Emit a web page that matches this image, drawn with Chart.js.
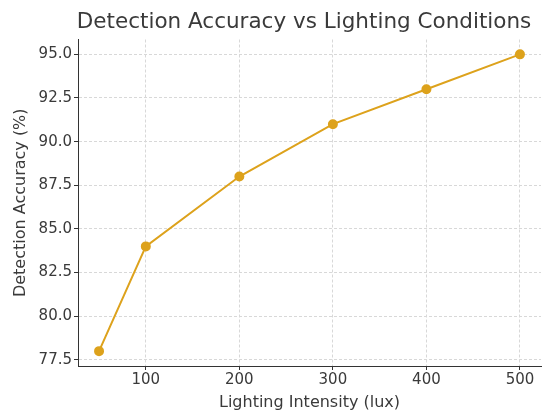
<!DOCTYPE html>
<html>
<head>
<meta charset="utf-8">
<script src="https://cdn.jsdelivr.net/npm/chart.js@4"></script>
<style>
  html, body { margin: 0; padding: 0; background: #fff; overflow: hidden; }
  #wrap { width: 547px; height: 414px; }
</style>
</head>
<body>
<div id="wrap"><canvas id="chart"></canvas></div>
<script>
// data
const lux = [50, 100, 200, 300, 400, 500];
const accuracy = [78, 84, 88, 91, 93, 95];
const xTicks = [100, 200, 300, 400, 500];
const yTicks = [77.5, 80.0, 82.5, 85.0, 87.5, 90.0, 92.5, 95.0];

const lineColor = '#DDA21C';
const font = 'DejaVu Sans';
const textColor = '#3a3a3a';

// title drawn over the middle of the plot area
const titlePlugin = {
    id: 'centerTitle',
    afterDraw(chart) {
        const ctx = chart.ctx;
        ctx.save();
        ctx.font = '21.5px "' + font + '"';
        ctx.fillStyle = textColor;
        ctx.textAlign = 'center';
        ctx.textBaseline = 'middle';
        ctx.fillText('Detection Accuracy vs Lighting Conditions', 304, 22);
        ctx.restore();
    }
};

new Chart(document.getElementById('chart'), {
    type: 'line',
    data: {
        datasets: [{
            data: lux.map((x, i) => ({ x: x, y: accuracy[i] })),
            borderColor: lineColor,
            backgroundColor: lineColor,
            borderWidth: 2,
            pointRadius: 4,
            pointHoverRadius: 4,
            tension: 0
        }]
    },
    options: {
        responsive: true,
        maintainAspectRatio: false,
        animation: false,
        layout: { padding: { top: 39.5, right: 0, left: 0, bottom: 0 } },
        plugins: {
            legend: { display: false },
            tooltip: { enabled: false }
        },
        scales: {
            x: {
                type: 'linear',
                min: 27.5,
                max: 522.5,
                afterBuildTicks: (axis) => { axis.ticks = xTicks.map(v => ({ value: v })); },
                afterFit: (axis) => { axis.height = 48; axis.paddingLeft = 0; axis.paddingRight = 0; },
                ticks: { color: textColor, font: { family: font, size: 15 }, padding: 1, maxRotation: 0 },
                grid: { color: '#d8d8d8', tickColor: '#333', tickLength: 4, tickBorderDash: [] },
                border: { display: true, color: '#333', width: 1, dash: [3, 2] },
                title: { display: true, text: 'Lighting Intensity (lux)', color: textColor, font: { family: font, size: 16 }, padding: { top: 2, bottom: 1.4 } }
            },
            y: {
                min: 77.15,
                max: 95.85,
                afterBuildTicks: (axis) => { axis.ticks = yTicks.map(v => ({ value: v })); },
                afterFit: (axis) => { axis.width = 78; axis.paddingTop = 0; axis.paddingBottom = 0; },
                ticks: { color: textColor, font: { family: font, size: 15 }, padding: 2, callback: (v) => v.toFixed(1) },
                grid: { color: '#d8d8d8', tickColor: '#333', tickLength: 4, tickBorderDash: [] },
                border: { display: true, color: '#333', width: 1, dash: [3, 2] },
                title: { display: true, text: 'Detection Accuracy (%)', color: textColor, font: { family: font, size: 16 }, padding: { top: 11.4, bottom: 2 } }
            }
        }
    },
    plugins: [titlePlugin]
});
</script>
</body>
</html>
